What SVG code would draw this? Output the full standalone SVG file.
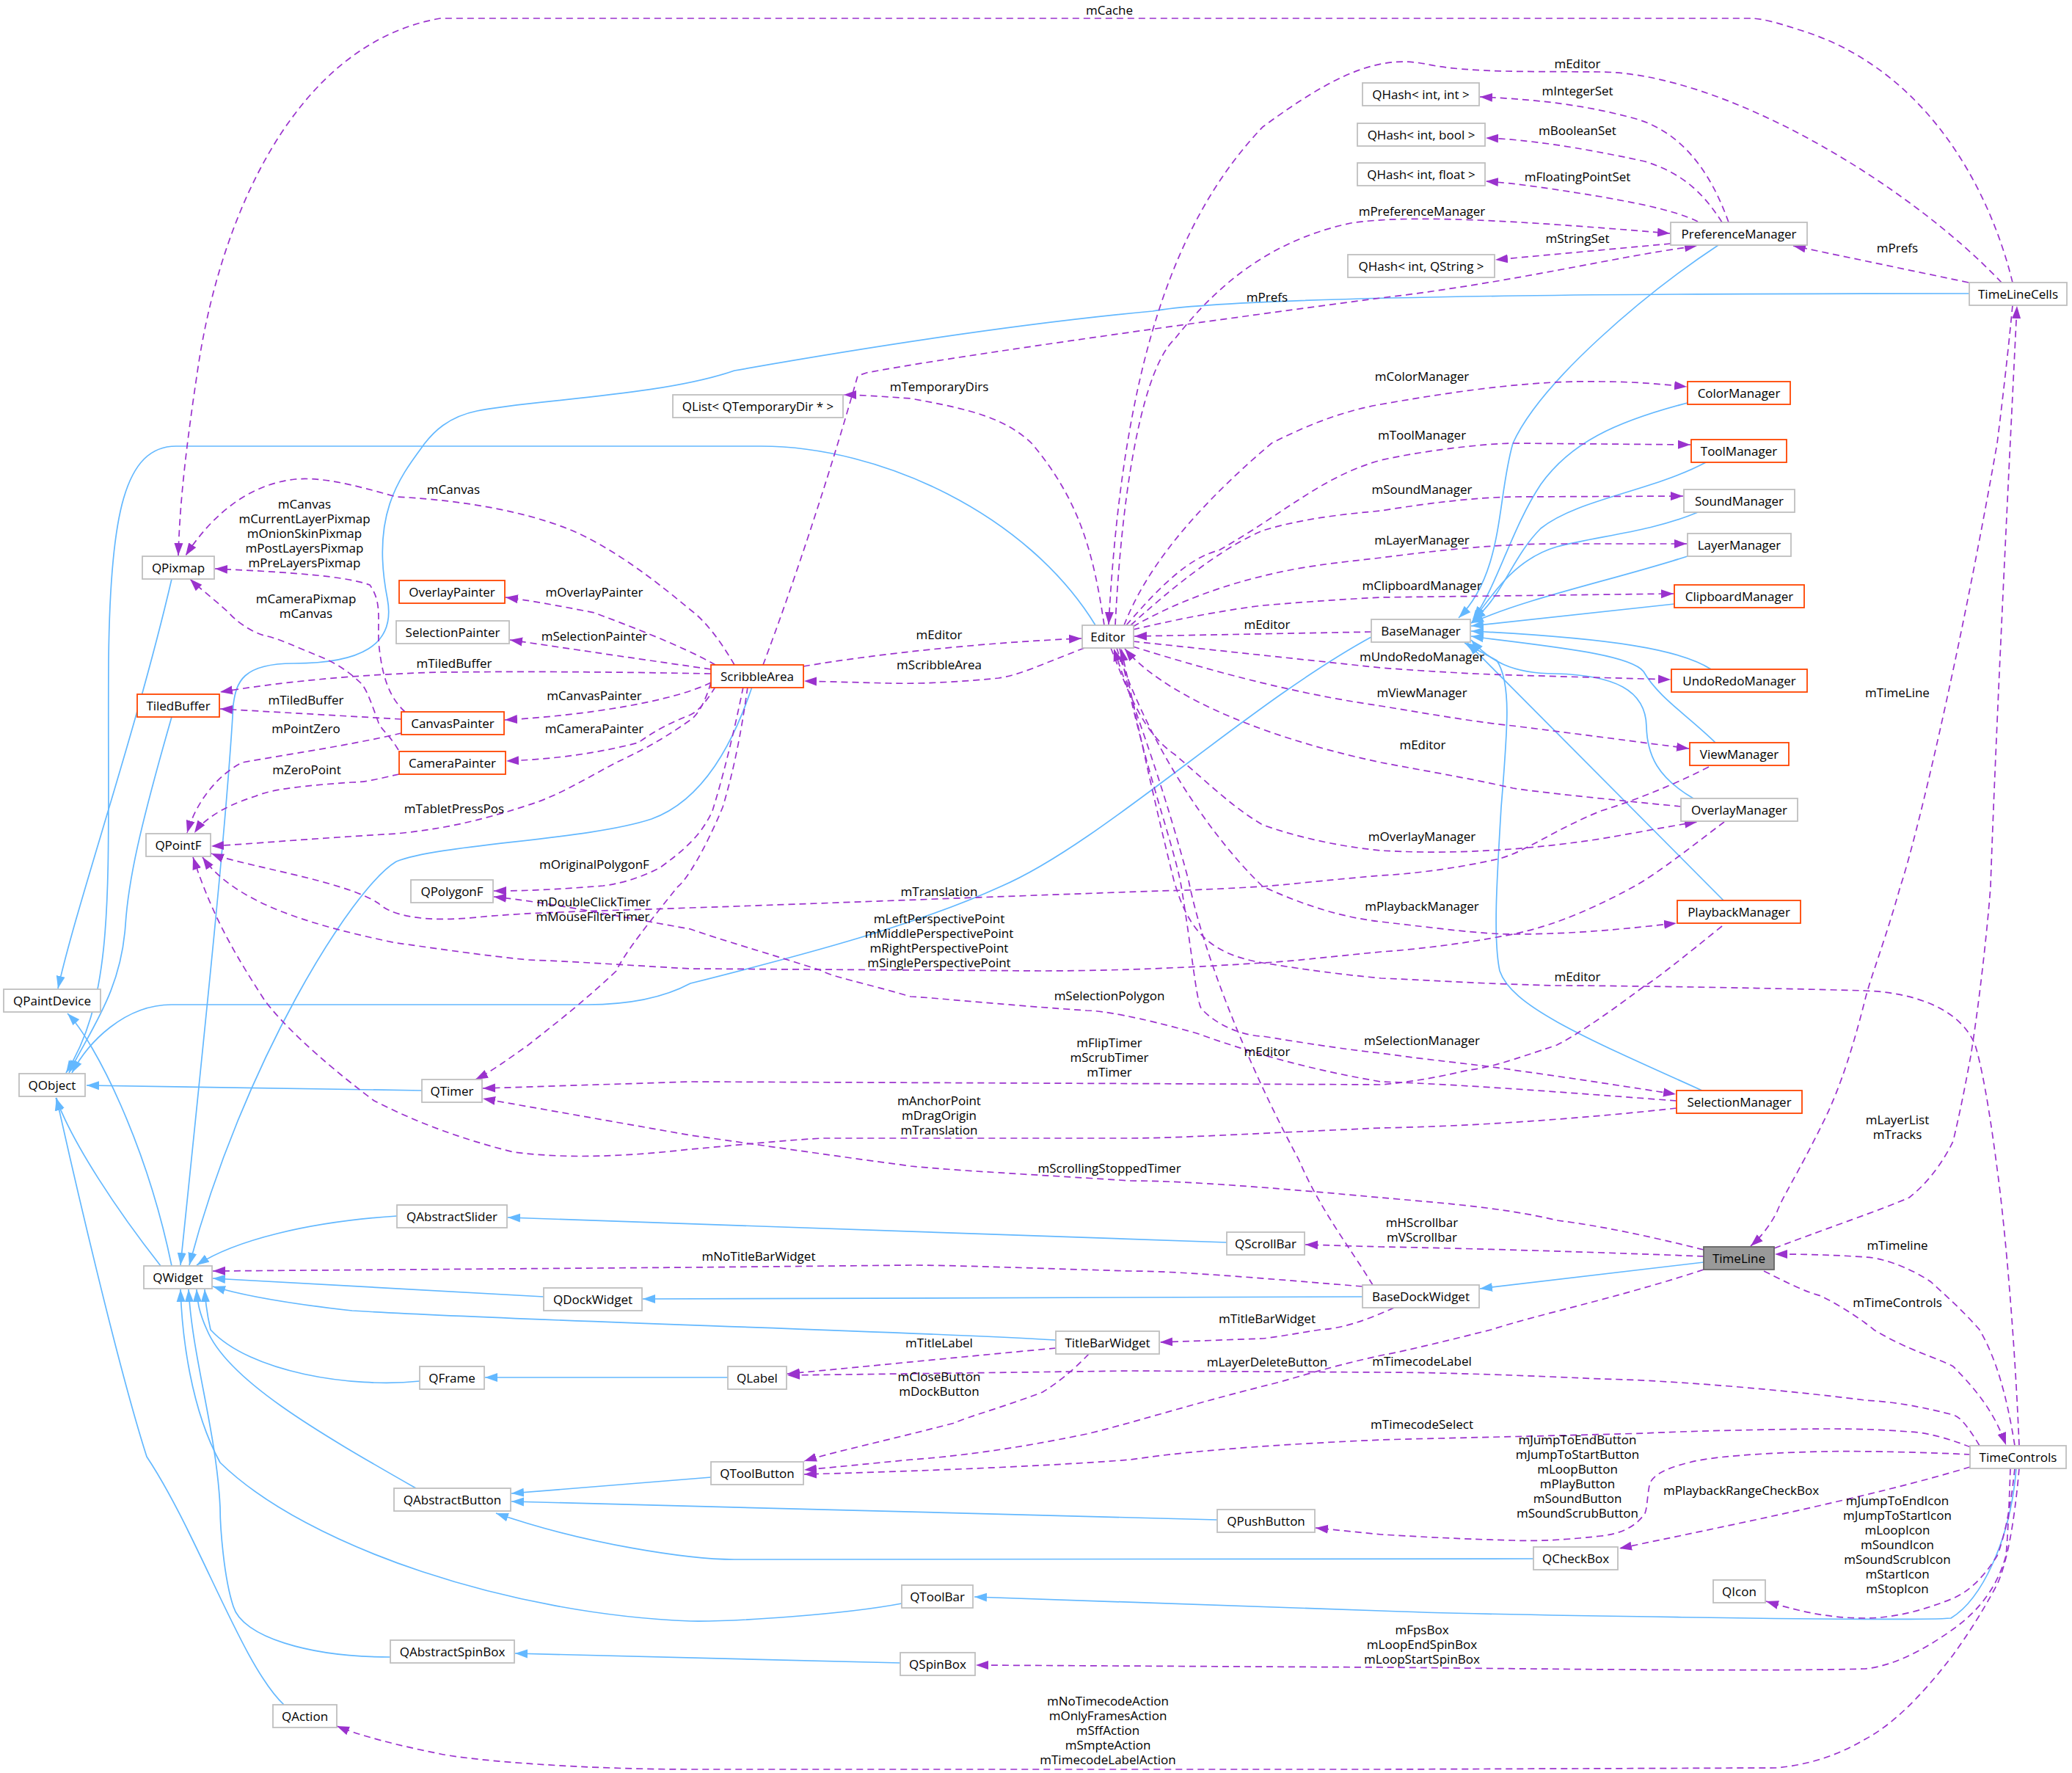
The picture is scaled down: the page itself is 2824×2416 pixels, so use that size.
<svg xmlns="http://www.w3.org/2000/svg" width="2824" height="2416" viewBox="0 0 2824 2416">
<style>
.n rect{fill:#fff;stroke:#bfbfbf;stroke-width:1.8}
.t rect{stroke:#ff4500}
.g rect{fill:#999;stroke:#666}
text{font-family:"Open Sans","Noto Sans","DejaVu Sans",sans-serif;font-size:17px;fill:#000;text-anchor:middle}
.inh{fill:none;stroke:#63b8ff;stroke-width:1.7;marker-end:url(#ab)}
.use{fill:none;stroke:#9a32cd;stroke-width:1.7;stroke-dasharray:9,6;marker-end:url(#ap)}
</style>
<defs>
<marker id="ap" markerUnits="userSpaceOnUse" markerWidth="19" markerHeight="13" refX="17" refY="6.5" orient="auto"><path d="M0,0.5 L17,6.5 L0,12.5 z" fill="#9a32cd"/></marker>
<marker id="ab" markerUnits="userSpaceOnUse" markerWidth="19" markerHeight="13" refX="17" refY="6.5" orient="auto"><path d="M0,0.5 L17,6.5 L0,12.5 z" fill="#63b8ff"/></marker>
</defs>
<rect width="2824" height="2416" fill="#fff"/>
<g id="edges">
<!-- inheritance -->
<path class="inh" d="M234,789 C185,1000 105,1230 79,1347"/>
<path class="inh" d="M234,977 C190,1130 175,1200 171,1260 C165,1350 125,1400 94,1462"/>
<path class="inh" d="M1493,852 C1400,700 1200,608 1037,608 L240,608 C170,608 150,700 148,900 C146,1200 160,1350 90,1462"/>
<path class="inh" d="M1869,868 C1700,960 1500,1150 1364,1208 C1250,1260 1100,1300 941,1340 C900,1362 850,1369 800,1369 L234,1369 C170,1369 120,1420 98,1462"/>
<path class="inh" d="M575,1486 L118,1479"/>
<path class="inh" d="M219,1725 C160,1650 100,1560 76,1496"/>
<path class="inh" d="M234,1725 C200,1560 130,1420 92,1381"/>
<path class="inh" d="M1025,936 C1000,1010 960,1090 888,1116 C800,1145 600,1150 540,1174 C480,1210 330,1450 258,1724"/>
<path class="inh" d="M2684,400 C2400,400 1700,400 1571,424 C1400,440 1200,470 1001,505 C900,540 720,545 650,560 C610,568 590,590 579,604 C545,650 505,700 528,816 C540,880 490,904 400,904 C330,904 322,930 318,960 C310,1100 290,1300 246,1724"/>
<path class="inh" d="M541,1657 C420,1665 320,1690 268,1724"/>
<path class="inh" d="M741,1767 L290,1742"/>
<path class="inh" d="M1439,1826 C1200,1812 700,1800 480,1786 C380,1775 320,1762 290,1753"/>
<path class="inh" d="M1672,1693 L692,1659"/>
<path class="inh" d="M1857,1767 L876,1770"/>
<path class="inh" d="M2322,1720 L2017,1756"/>
<path class="inh" d="M992,1877 L661,1877"/>
<path class="inh" d="M572,1882 C480,1892 340,1870 287,1812 C282,1790 280,1775 279,1757"/>
<path class="inh" d="M969,2013 L697,2035"/>
<path class="inh" d="M1659,2071 L697,2046"/>
<path class="inh" d="M2090,2124 L1001,2125 C941,2125 800,2105 676,2062"/>
<path class="inh" d="M567,2028 C430,1950 310,1880 282,1812 C272,1790 269,1775 268,1757"/>
<path class="inh" d="M1229,2185 C1150,2200 1000,2210 941,2209 C700,2200 420,2110 300,1993 C260,1920 248,1820 246,1757"/>
<path class="inh" d="M532,2258 C420,2258 330,2230 318,2189 C305,2150 300,2080 300,2054 C295,1950 262,1850 257,1757"/>
<path class="inh" d="M387,2323 C330,2270 270,2090 200,1985 C160,1860 100,1600 77,1496"/>
<path class="inh" d="M1227,2266 L702,2253"/>
<path class="inh" d="M2748,2001 C2740,2100 2700,2180 2659,2205 C2600,2210 2000,2200 1882,2195 L1328,2176"/>
<path class="inh" d="M2342,334 C2242,400 2100,520 2062,604 C2040,680 2050,780 1988,842"/>
<path class="inh" d="M2300,549 C2200,575 2140,604 2100,660 C2060,720 2040,800 2008,843"/>
<path class="inh" d="M2325,630 C2250,670 2150,680 2100,720 C2060,760 2050,810 2008,845"/>
<path class="inh" d="M2314,698 C2250,725 2180,730 2122,745 C2070,760 2040,800 2006,848"/>
<path class="inh" d="M2300,758 C2200,790 2080,815 2005,849"/>
<path class="inh" d="M2282,823 L2005,853"/>
<path class="inh" d="M2332,912 C2290,885 2200,870 2005,860"/>
<path class="inh" d="M2338,1012 C2300,975 2260,950 2240,915 C2220,890 2100,880 2005,867"/>
<path class="inh" d="M2308,1088 C2260,1060 2245,1030 2244,990 C2243,940 2200,920 2120,918 C2060,918 2030,900 2005,872"/>
<path class="inh" d="M2349,1227 L2000,876"/>
<path class="inh" d="M2320,1486 C2150,1410 2060,1370 2044,1323 C2035,1280 2040,1200 2046,1100 C2055,990 2060,930 2040,900 L1996,876"/>
<!-- usage -->
<path class="use" d="M2743,385 C2710,250 2620,90 2450,40 C2420,30 2400,25 2386,25 L600,25 C400,60 300,300 270,500 C255,600 245,680 243,757"/>
<path class="use" d="M2728,385 C2600,250 2350,100 2182,98 C2100,97 2000,100 1942,87 C1880,75 1820,100 1721,173 C1600,300 1530,500 1511,851"/>
<path class="use" d="M2356,303 C2330,230 2290,180 2230,162 C2150,140 2080,135 2017,132"/>
<path class="use" d="M2347,303 C2320,260 2290,235 2242,220 C2150,200 2080,190 2025,188"/>
<path class="use" d="M2314,302 C2280,285 2220,275 2182,268 C2120,258 2070,250 2025,247"/>
<path class="use" d="M2277,332 L2038,354"/>
<path class="use" d="M1520,852 C1530,650 1560,500 1601,462 C1650,400 1720,330 1841,304 C1920,292 2060,300 2276,318"/>
<path class="use" d="M2683,385 L2444,335"/>
<path class="use" d="M1040,906 C1080,800 1130,650 1169,512 L1181,508 C1300,485 1700,430 1882,406 C2062,385 2200,350 2313,335"/>
<path class="use" d="M1505,852 C1490,750 1470,680 1406,604 C1370,570 1325,558 1241,543 C1200,540 1170,538 1150,538"/>
<path class="use" d="M1532,852 C1560,780 1620,700 1733,604 C1780,580 1830,560 1882,551 C2000,530 2100,518 2182,520 C2230,520 2270,524 2299,527"/>
<path class="use" d="M1535,852 C1580,800 1620,760 1661,750 C1750,700 1800,650 1882,627 C1960,610 2040,604 2062,604 L2304,606"/>
<path class="use" d="M1541,852 C1620,780 1680,740 1721,723 C1780,705 1840,700 1882,696 C1950,685 2010,678 2062,677 L2294,676"/>
<path class="use" d="M1544,854 C1620,810 1700,790 1721,785 C1780,770 1840,765 1882,760 C1960,750 2040,741 2122,741 L2299,741"/>
<path class="use" d="M1544,858 C1620,840 1680,830 1721,825 C1780,820 1840,816 1882,814 L2281,809"/>
<path class="use" d="M1869,861 L1546,867"/>
<path class="use" d="M1544,874 L1882,910 C1950,915 2000,918 2062,920 L2277,926"/>
<path class="use" d="M1544,881 C1700,930 1800,950 1882,962 C1960,975 2020,985 2062,989 C2150,1000 2240,1012 2302,1020"/>
<path class="use" d="M2291,1099 C2200,1090 2100,1080 2062,1074 C2000,1060 1940,1050 1882,1039 C1700,1000 1580,940 1533,884"/>
<path class="use" d="M1514,883 C1540,950 1560,1000 1601,1028 C1650,1070 1680,1100 1721,1124 C1780,1145 1840,1155 1882,1159 C1950,1163 2050,1163 2182,1143 C2240,1133 2280,1125 2313,1120"/>
<path class="use" d="M2329,1045 C2280,1070 2230,1090 2182,1105 C2120,1130 2080,1160 2044,1170 C2000,1180 1940,1190 1882,1193 C1800,1200 1760,1205 1721,1208 C1650,1212 1620,1213 1583,1214 C1400,1220 1100,1232 941,1237 C800,1242 720,1243 650,1250 C570,1258 530,1245 516,1231 C470,1200 330,1180 288,1163"/>
<path class="use" d="M1522,883 C1560,1000 1640,1130 1721,1208 C1780,1235 1830,1250 1882,1256 C1960,1265 2020,1273 2062,1273 C2150,1273 2220,1265 2285,1258"/>
<path class="use" d="M2350,1120 C2310,1150 2260,1190 2227,1208 C2150,1250 2100,1265 2062,1273 C2000,1285 1940,1293 1882,1297 C1800,1305 1760,1310 1721,1312 C1600,1320 1500,1323 1421,1323 L941,1320 C850,1315 780,1310 720,1308 C640,1300 580,1290 540,1285 C420,1260 320,1230 276,1168"/>
<path class="use" d="M1526,883 C1560,1050 1600,1150 1610,1208 C1625,1300 1630,1360 1637,1374 C1660,1400 1700,1412 1721,1412 C1800,1425 1850,1432 1882,1435 C1950,1445 2010,1450 2062,1458 C2150,1470 2230,1483 2284,1491"/>
<path class="use" d="M1871,1751 C1840,1700 1800,1650 1770,1580 C1700,1450 1640,1300 1620,1200 C1580,1050 1540,950 1518,884"/>
<path class="use" d="M2347,1262 C2300,1300 2250,1340 2242,1343 C2180,1390 2140,1415 2122,1424 C2060,1445 2030,1455 2002,1458 C1960,1468 1920,1475 1882,1478 L941,1474 L658,1483"/>
<path class="use" d="M2322,1703 C2250,1685 2180,1670 2122,1663 C2050,1645 1950,1638 1882,1632 C1700,1615 1600,1609 1541,1609 C1400,1600 1300,1595 1241,1589 C1100,1570 1000,1555 941,1547 L658,1497"/>
<path class="use" d="M2285,1500 C2150,1490 2000,1478 1882,1474 C1800,1460 1720,1440 1631,1408 C1550,1385 1500,1377 1481,1377 C1350,1368 1280,1360 1241,1358 C1180,1340 1130,1330 1121,1323 C1050,1300 980,1280 941,1266 C850,1250 750,1230 673,1222"/>
<path class="use" d="M2285,1510 C2150,1525 2000,1535 1882,1537 C1700,1545 1600,1551 1541,1551 L1121,1551 C1050,1555 990,1562 941,1566 C860,1575 780,1580 700,1570 C600,1545 540,1515 510,1500 C430,1440 380,1390 360,1362 C320,1300 290,1250 263,1168"/>
<path class="use" d="M1019,936 C1010,1000 1000,1050 985,1100 C960,1160 935,1200 924,1208 C890,1250 850,1300 840,1323 C790,1370 750,1400 720,1424 C690,1445 670,1460 648,1471"/>
<path class="use" d="M1013,936 C1000,1000 985,1060 971,1105 C955,1140 930,1160 900,1182 C870,1198 840,1205 822,1207 C760,1212 720,1214 673,1214"/>
<path class="use" d="M969,930 C960,960 950,975 941,981 C900,1010 870,1025 840,1039 C800,1060 760,1085 720,1097 C650,1120 600,1130 540,1136 C420,1143 340,1150 288,1153"/>
<path class="use" d="M975,936 C960,960 950,970 941,974 C900,990 880,1005 870,1012 C800,1030 740,1035 690,1037"/>
<path class="use" d="M969,930 C920,955 800,975 688,981"/>
<path class="use" d="M969,918 C800,915 700,915 600,916 C450,920 350,935 300,943"/>
<path class="use" d="M969,912 C850,895 750,880 695,872"/>
<path class="use" d="M975,906 C930,880 850,850 810,835 C760,825 720,818 689,814"/>
<path class="use" d="M1001,906 C980,870 960,845 941,831 C880,780 830,745 780,723 C700,690 600,680 540,677 C480,660 440,650 402,653 C340,660 290,700 253,757"/>
<path class="use" d="M552,970 C530,950 520,920 516,874 C515,840 520,820 504,797 C470,785 400,780 293,775"/>
<path class="use" d="M543,1022 C530,1000 520,995 516,985 C505,955 500,940 492,931 C470,910 450,900 432,893 C400,880 380,870 360,866 C340,860 320,845 312,835 C290,815 270,800 259,789"/>
<path class="use" d="M547,980 L300,966"/>
<path class="use" d="M547,999 C480,1015 380,1030 330,1039 C290,1060 265,1100 255,1135"/>
<path class="use" d="M544,1055 C520,1060 500,1066 480,1066 C420,1070 370,1075 348,1085 C300,1100 275,1120 265,1135"/>
<path class="use" d="M1095,908 C1200,890 1350,875 1474,870"/>
<path class="use" d="M1478,883 C1420,905 1390,920 1361,924 C1300,930 1250,932 1211,931 L1096,928"/>
<path class="use" d="M2743,416 C2735,500 2725,580 2722,604 C2670,900 2610,1150 2590,1208 C2570,1280 2550,1330 2542,1362 C2520,1450 2500,1500 2482,1535 C2450,1600 2430,1630 2422,1651 C2410,1675 2395,1690 2386,1698"/>
<path class="use" d="M2418,1701 C2500,1670 2560,1650 2602,1632 C2630,1610 2650,1580 2662,1555 C2675,1500 2680,1470 2686,1439 C2700,1350 2710,1250 2713,1208 C2720,1000 2740,600 2749,417"/>
<path class="use" d="M2746,1970 C2735,1900 2720,1850 2698,1812 C2670,1780 2640,1755 2632,1747 C2600,1725 2560,1713 2542,1713 C2500,1710 2460,1709 2419,1709"/>
<path class="use" d="M2404,1732 C2440,1750 2460,1760 2482,1766 C2510,1780 2540,1800 2554,1812 C2600,1840 2640,1850 2662,1862 C2700,1900 2720,1930 2734,1969"/>
<path class="use" d="M2752,1970 C2745,1800 2730,1650 2722,1593 C2710,1500 2700,1450 2692,1424 C2670,1370 2600,1352 2542,1350 C2400,1346 2200,1343 2122,1343 C2000,1340 1940,1335 1882,1333 C1800,1325 1760,1318 1721,1312 C1650,1300 1620,1270 1600,1200 C1570,1080 1545,960 1528,884"/>
<path class="use" d="M2322,1712 C2150,1705 1950,1700 1882,1699 L1779,1696"/>
<path class="use" d="M1857,1753 C1700,1740 1600,1732 1541,1732 C1400,1728 1300,1724 1241,1724 L941,1727 L290,1732"/>
<path class="use" d="M1900,1782 C1860,1800 1830,1810 1799,1812 C1760,1818 1740,1822 1721,1824 L1581,1829"/>
<path class="use" d="M2322,1730 C2200,1770 2100,1790 2032,1812 C1980,1825 1920,1840 1882,1847 C1800,1865 1760,1880 1721,1889 C1600,1920 1540,1940 1481,1954 C1380,1975 1300,1985 1241,1989 C1180,1995 1130,2000 1096,2003"/>
<path class="use" d="M1439,1837 C1300,1850 1150,1865 1073,1872"/>
<path class="use" d="M2698,1970 C2680,1940 2670,1930 2662,1928 C2600,1912 2570,1910 2542,1908 C2400,1890 2250,1880 2182,1879 C2050,1873 1950,1870 1882,1870 L1541,1868 L1073,1874"/>
<path class="use" d="M1484,1845 C1460,1870 1440,1885 1421,1897 C1360,1920 1320,1930 1301,1939 C1200,1965 1130,1980 1096,1991"/>
<path class="use" d="M2686,1972 C2650,1958 2620,1951 2602,1951 C2550,1947 2520,1947 2482,1947 C2400,1948 2300,1950 2242,1953 C2100,1957 1950,1960 1882,1962 C1700,1970 1600,1980 1541,1989 C1400,2000 1200,2006 1096,2009"/>
<path class="use" d="M2686,1982 C2600,1978 2520,1977 2482,1978 C2400,1980 2330,1985 2302,1993 C2260,2003 2250,2015 2248,2024 C2245,2040 2245,2055 2242,2062 C2230,2080 2210,2090 2182,2093 C2120,2100 2080,2100 2062,2099 C1980,2097 1920,2093 1882,2091 L1793,2082"/>
<path class="use" d="M2685,1999 C2550,2040 2350,2080 2207,2110"/>
<path class="use" d="M2746,2001 C2740,2060 2730,2100 2722,2120 C2700,2155 2680,2170 2662,2178 C2620,2195 2580,2205 2542,2205 C2490,2205 2450,2195 2407,2182"/>
<path class="use" d="M2740,2001 C2738,2060 2736,2100 2734,2120 C2720,2170 2690,2200 2662,2220 C2620,2250 2580,2270 2542,2274 C2400,2278 2100,2274 1882,2272 L1330,2269"/>
<path class="use" d="M2752,2001 C2745,2080 2735,2130 2722,2159 C2700,2200 2680,2230 2662,2255 C2620,2310 2580,2350 2542,2370 C2500,2395 2460,2405 2422,2409 L1882,2411 L941,2411 C800,2411 650,2400 600,2390 C540,2378 490,2365 459,2352"/>
</g>
<g id="labels">
<text x="1512" y="20">mCache</text>
<text x="2150" y="93">mEditor</text>
<text x="2150" y="130">mIntegerSet</text>
<text x="2150" y="184">mBooleanSet</text>
<text x="2150" y="247">mFloatingPointSet</text>
<text x="1938" y="294">mPreferenceManager</text>
<text x="2150" y="331">mStringSet</text>
<text x="2586" y="344">mPrefs</text>
<text x="1727" y="411">mPrefs</text>
<text x="1280" y="533">mTemporaryDirs</text>
<text x="1938" y="519">mColorManager</text>
<text x="1938" y="599">mToolManager</text>
<text x="1938" y="673">mSoundManager</text>
<text x="1938" y="742">mLayerManager</text>
<text x="1938" y="804">mClipboardManager</text>
<text x="1727" y="857">mEditor</text>
<text x="1938" y="901">mUndoRedoManager</text>
<text x="1938" y="950">mViewManager</text>
<text x="1939" y="1021">mEditor</text>
<text x="1938" y="1146">mOverlayManager</text>
<text x="2586" y="950">mTimeLine</text>
<text x="1938" y="1241">mPlaybackManager</text>
<text x="2150" y="1337">mEditor</text>
<text x="1938" y="1424">mSelectionManager</text>
<text x="2586" y="1532">mLayerList</text>
<text x="2586" y="1552">mTracks</text>
<text x="1938" y="1672">mHScrollbar</text>
<text x="1938" y="1692">mVScrollbar</text>
<text x="2586" y="1703">mTimeline</text>
<text x="2586" y="1781">mTimeControls</text>
<text x="1280" y="1221">mTranslation</text>
<text x="1280" y="1258">mLeftPerspectivePoint</text>
<text x="1280" y="1278">mMiddlePerspectivePoint</text>
<text x="1280" y="1298">mRightPerspectivePoint</text>
<text x="1280" y="1318">mSinglePerspectivePoint</text>
<text x="1512" y="1363">mSelectionPolygon</text>
<text x="1512" y="1427">mFlipTimer</text>
<text x="1512" y="1447">mScrubTimer</text>
<text x="1512" y="1467">mTimer</text>
<text x="1727" y="1439">mEditor</text>
<text x="1280" y="1506">mAnchorPoint</text>
<text x="1280" y="1526">mDragOrigin</text>
<text x="1280" y="1546">mTranslation</text>
<text x="1512" y="1598">mScrollingStoppedTimer</text>
<text x="1034" y="1718">mNoTitleBarWidget</text>
<text x="1727" y="1803">mTitleBarWidget</text>
<text x="809" y="1235">mDoubleClickTimer</text>
<text x="808" y="1255">mMouseFilterTimer</text>
<text x="618" y="673">mCanvas</text>
<text x="415" y="693">mCanvas</text>
<text x="415" y="713">mCurrentLayerPixmap</text>
<text x="415" y="733">mOnionSkinPixmap</text>
<text x="415" y="753">mPostLayersPixmap</text>
<text x="415" y="773">mPreLayersPixmap</text>
<text x="417" y="822">mCameraPixmap</text>
<text x="417" y="842">mCanvas</text>
<text x="810" y="813">mOverlayPainter</text>
<text x="810" y="873">mSelectionPainter</text>
<text x="619" y="910">mTiledBuffer</text>
<text x="417" y="960">mTiledBuffer</text>
<text x="810" y="954">mCanvasPainter</text>
<text x="417" y="999">mPointZero</text>
<text x="810" y="999">mCameraPainter</text>
<text x="418" y="1055">mZeroPoint</text>
<text x="619" y="1108">mTabletPressPos</text>
<text x="810" y="1184">mOriginalPolygonF</text>
<text x="1280" y="871">mEditor</text>
<text x="1280" y="912">mScribbleArea</text>
<text x="1280" y="1836">mTitleLabel</text>
<text x="1280" y="1882">mCloseButton</text>
<text x="1280" y="1902">mDockButton</text>
<text x="1727" y="1862">mLayerDeleteButton</text>
<text x="1938" y="1861">mTimecodeLabel</text>
<text x="1938" y="1947">mTimecodeSelect</text>
<text x="2150" y="1968">mJumpToEndButton</text>
<text x="2150" y="1988">mJumpToStartButton</text>
<text x="2150" y="2008">mLoopButton</text>
<text x="2150" y="2028">mPlayButton</text>
<text x="2150" y="2048">mSoundButton</text>
<text x="2150" y="2068">mSoundScrubButton</text>
<text x="2373" y="2037">mPlaybackRangeCheckBox</text>
<text x="2586" y="2051">mJumpToEndIcon</text>
<text x="2586" y="2071">mJumpToStartIcon</text>
<text x="2586" y="2091">mLoopIcon</text>
<text x="2586" y="2111">mSoundIcon</text>
<text x="2586" y="2131">mSoundScrubIcon</text>
<text x="2586" y="2151">mStartIcon</text>
<text x="2586" y="2171">mStopIcon</text>
<text x="1938" y="2227">mFpsBox</text>
<text x="1938" y="2247">mLoopEndSpinBox</text>
<text x="1938" y="2267">mLoopStartSpinBox</text>
<text x="1510" y="2324">mNoTimecodeAction</text>
<text x="1510" y="2344">mOnlyFramesAction</text>
<text x="1510" y="2364">mSffAction</text>
<text x="1510" y="2384">mSmpteAction</text>
<text x="1510" y="2404">mTimecodeLabelAction</text>
</g>
<g id="nodes">
<g id="n_qhash_int" class="n"><rect x="1857" y="113" width="159" height="31"/><text x="1936.5" y="134.5">QHash&lt; int, int &gt;</text></g>
<g id="n_qhash_bool" class="n"><rect x="1850" y="168" width="174" height="31"/><text x="1937" y="189.5">QHash&lt; int, bool &gt;</text></g>
<g id="n_qhash_float" class="n"><rect x="1850" y="222" width="174" height="31"/><text x="1937" y="243.5">QHash&lt; int, float &gt;</text></g>
<g id="n_qhash_qstring" class="n"><rect x="1837" y="347" width="200" height="31"/><text x="1937" y="368.5">QHash&lt; int, QString &gt;</text></g>
<g id="n_preferencemanager" class="n"><rect x="2277" y="303" width="186" height="31"/><text x="2370" y="324.5">PreferenceManager</text></g>
<g id="n_timelinecells" class="n"><rect x="2684" y="385" width="133" height="31"/><text x="2750.5" y="406.5">TimeLineCells</text></g>
<g id="n_qlist" class="n"><rect x="917" y="538" width="232" height="31"/><text x="1033" y="559.5">QList&lt; QTemporaryDir * &gt;</text></g>
<g id="n_colormanager" class="n t"><rect x="2300" y="520" width="140" height="31"/><text x="2370" y="541.5">ColorManager</text></g>
<g id="n_toolmanager" class="n t"><rect x="2305" y="599" width="130" height="31"/><text x="2370" y="620.5">ToolManager</text></g>
<g id="n_soundmanager" class="n"><rect x="2295" y="667" width="151" height="31"/><text x="2370.5" y="688.5">SoundManager</text></g>
<g id="n_layermanager" class="n"><rect x="2300" y="727" width="141" height="31"/><text x="2370.5" y="748.5">LayerManager</text></g>
<g id="n_clipboardmanager" class="n t"><rect x="2282" y="797" width="177" height="31"/><text x="2370.5" y="818.5">ClipboardManager</text></g>
<g id="n_basemanager" class="n"><rect x="1869" y="844" width="135" height="31"/><text x="1936.5" y="865.5">BaseManager</text></g>
<g id="n_undoredomanager" class="n t"><rect x="2278" y="912" width="185" height="31"/><text x="2370.5" y="933.5">UndoRedoManager</text></g>
<g id="n_viewmanager" class="n t"><rect x="2303" y="1012" width="135" height="31"/><text x="2370.5" y="1033.5">ViewManager</text></g>
<g id="n_overlaymanager" class="n"><rect x="2291" y="1088" width="159" height="31"/><text x="2370.5" y="1109.5">OverlayManager</text></g>
<g id="n_playbackmanager" class="n t"><rect x="2286" y="1227" width="168" height="31"/><text x="2370" y="1248.5">PlaybackManager</text></g>
<g id="n_selectionmanager" class="n t"><rect x="2285" y="1486" width="171" height="31"/><text x="2370.5" y="1507.5">SelectionManager</text></g>
<g id="n_timeline" class="n g"><rect x="2322" y="1699" width="96" height="31"/><text x="2370" y="1720.5">TimeLine</text></g>
<g id="n_basedockwidget" class="n"><rect x="1857" y="1751" width="159" height="31"/><text x="1936.5" y="1772.5">BaseDockWidget</text></g>
<g id="n_timecontrols" class="n"><rect x="2685" y="1970" width="131" height="31"/><text x="2750.5" y="1991.5">TimeControls</text></g>
<g id="n_qcheckbox" class="n"><rect x="2090" y="2108" width="115" height="31"/><text x="2147.5" y="2129.5">QCheckBox</text></g>
<g id="n_qicon" class="n"><rect x="2335" y="2153" width="71" height="31"/><text x="2370.5" y="2174.5">QIcon</text></g>
<g id="n_titlebarwidget" class="n"><rect x="1439" y="1814" width="141" height="31"/><text x="1509.5" y="1835.5">TitleBarWidget</text></g>
<g id="n_qlabel" class="n"><rect x="992" y="1862" width="80" height="31"/><text x="1032" y="1883.5">QLabel</text></g>
<g id="n_qtoolbutton" class="n"><rect x="969" y="1992" width="126" height="31"/><text x="1032" y="2013.5">QToolButton</text></g>
<g id="n_qpushbutton" class="n"><rect x="1659" y="2057" width="133" height="31"/><text x="1725.5" y="2078.5">QPushButton</text></g>
<g id="n_qtoolbar" class="n"><rect x="1229" y="2160" width="97" height="31"/><text x="1277.5" y="2181.5">QToolBar</text></g>
<g id="n_qspinbox" class="n"><rect x="1227" y="2252" width="102" height="31"/><text x="1278" y="2273.5">QSpinBox</text></g>
<g id="n_qframe" class="n"><rect x="572" y="1862" width="88" height="31"/><text x="616" y="1883.5">QFrame</text></g>
<g id="n_qabstractbutton" class="n"><rect x="537" y="2028" width="159" height="31"/><text x="616.5" y="2049.5">QAbstractButton</text></g>
<g id="n_qabstractspinbox" class="n"><rect x="532" y="2235" width="169" height="31"/><text x="616.5" y="2256.5">QAbstractSpinBox</text></g>
<g id="n_qaction" class="n"><rect x="372" y="2323" width="87" height="31"/><text x="415.5" y="2344.5">QAction</text></g>
<g id="n_qpolygonf" class="n"><rect x="560" y="1199" width="112" height="31"/><text x="616" y="1220.5">QPolygonF</text></g>
<g id="n_qpaintdevice" class="n"><rect x="5" y="1348" width="132" height="31"/><text x="71" y="1369.5">QPaintDevice</text></g>
<g id="n_qobject" class="n"><rect x="26" y="1463" width="90" height="31"/><text x="71" y="1484.5">QObject</text></g>
<g id="n_qtimer" class="n"><rect x="575" y="1471" width="82" height="31"/><text x="616" y="1492.5">QTimer</text></g>
<g id="n_qabstractslider" class="n"><rect x="541" y="1642" width="150" height="31"/><text x="616" y="1663.5">QAbstractSlider</text></g>
<g id="n_qwidget" class="n"><rect x="196" y="1725" width="93" height="31"/><text x="242.5" y="1746.5">QWidget</text></g>
<g id="n_qdockwidget" class="n"><rect x="741" y="1755" width="134" height="31"/><text x="808" y="1776.5">QDockWidget</text></g>
<g id="n_qscrollbar" class="n"><rect x="1672" y="1679" width="106" height="31"/><text x="1725" y="1700.5">QScrollBar</text></g>
<g id="n_qpixmap" class="n"><rect x="194" y="758" width="98" height="31"/><text x="243" y="779.5">QPixmap</text></g>
<g id="n_overlaypainter" class="n t"><rect x="544" y="791" width="144" height="31"/><text x="616" y="812.5">OverlayPainter</text></g>
<g id="n_selectionpainter" class="n"><rect x="540" y="846" width="154" height="31"/><text x="617" y="867.5">SelectionPainter</text></g>
<g id="n_tiledbuffer" class="n t"><rect x="187" y="946" width="112" height="31"/><text x="243" y="967.5">TiledBuffer</text></g>
<g id="n_canvaspainter" class="n t"><rect x="547" y="970" width="140" height="31"/><text x="617" y="991.5">CanvasPainter</text></g>
<g id="n_camerapainter" class="n t"><rect x="544" y="1024" width="145" height="31"/><text x="616.5" y="1045.5">CameraPainter</text></g>
<g id="n_qpointf" class="n"><rect x="199" y="1136" width="88" height="31"/><text x="243" y="1157.5">QPointF</text></g>
<g id="n_scribblearea" class="n t"><rect x="969" y="906" width="126" height="31"/><text x="1032" y="927.5">ScribbleArea</text></g>
<g id="n_editor" class="n"><rect x="1475" y="852" width="70" height="31"/><text x="1510" y="873.5">Editor</text></g>
</g>
</svg>
